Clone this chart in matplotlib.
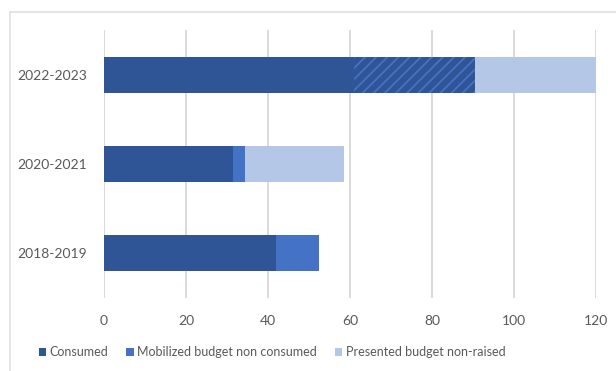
import numpy as np
import matplotlib
matplotlib.use('Agg')
import matplotlib.pyplot as plt
from matplotlib.lines import Line2D
from matplotlib.patches import Patch

# budget per period (millions)
periods = ['2018-2019', '2020-2021', '2022-2023']
consumed = [42, 31.5, 61]
mobilized = [10.5, 3, 29.5]
presented = [0, 24, 29.5]
mobilized_hatch = ['', '', '///']

labels = ['Consumed', 'Mobilized budget non consumed', 'Presented budget non-raised']
colors = ['#2F5597', '#4472C4', '#B4C7E7']
txt_color = '#595959'

plt.rcParams['font.family'] = ['Lato', 'DejaVu Sans']
plt.rcParams['hatch.linewidth'] = 1.3

fig = plt.figure(figsize=(6.16, 3.71), dpi=100)
ax = fig.add_axes([104 / 616., 73 / 371., 492 / 616., 268 / 371.])

y = np.arange(len(periods))
h = 0.4
ax.barh(y, consumed, height=h, color=colors[0], zorder=3)
for i in range(len(periods)):
    if mobilized_hatch[i]:
        ax.barh(y[i], mobilized[i], left=consumed[i], height=h, color=colors[0],
                edgecolor=colors[1], hatch=mobilized_hatch[i], linewidth=0, zorder=3)
    else:
        ax.barh(y[i], mobilized[i], left=consumed[i], height=h, color=colors[1], zorder=3)
left2 = np.array(consumed) + np.array(mobilized)
ax.barh(y, presented, left=left2, height=h, color=colors[2], zorder=3)

ax.set_xlim(0, 120)
ax.set_ylim(-0.5, 2.5)
ax.set_xticks(np.arange(0, 121, 20))
ax.set_yticks(y)
ax.set_yticklabels(periods)
ax.grid(axis='x', color='#dadada', linewidth=1.4, zorder=0)
for s in ax.spines.values():
    s.set_visible(False)
ax.tick_params(axis='both', length=0, labelsize=10, labelcolor=txt_color)
ax.tick_params(axis='x', pad=12)
ax.tick_params(axis='y', pad=12)

# outer chart frame (left and top edges)
frame_c = '#e0e0e0'
fig.add_artist(Line2D([10 / 616., 1], [1 - 12 / 371.] * 2, color=frame_c, lw=1.2))
fig.add_artist(Line2D([10 / 616.] * 2, [0, 1 - 12 / 371.], color=frame_c, lw=1.2))

handles = [Patch(facecolor=c, edgecolor='none') for c in colors]
fig.legend(handles, labels, loc='center', bbox_to_anchor=(272 / 616., 1 - 352 / 371.),
           ncol=3, frameon=False, fontsize=9, labelcolor=txt_color,
           handlelength=0.6, handleheight=0.6, handletextpad=0.3, columnspacing=1.4)

fig.savefig('out.png', dpi=100)
